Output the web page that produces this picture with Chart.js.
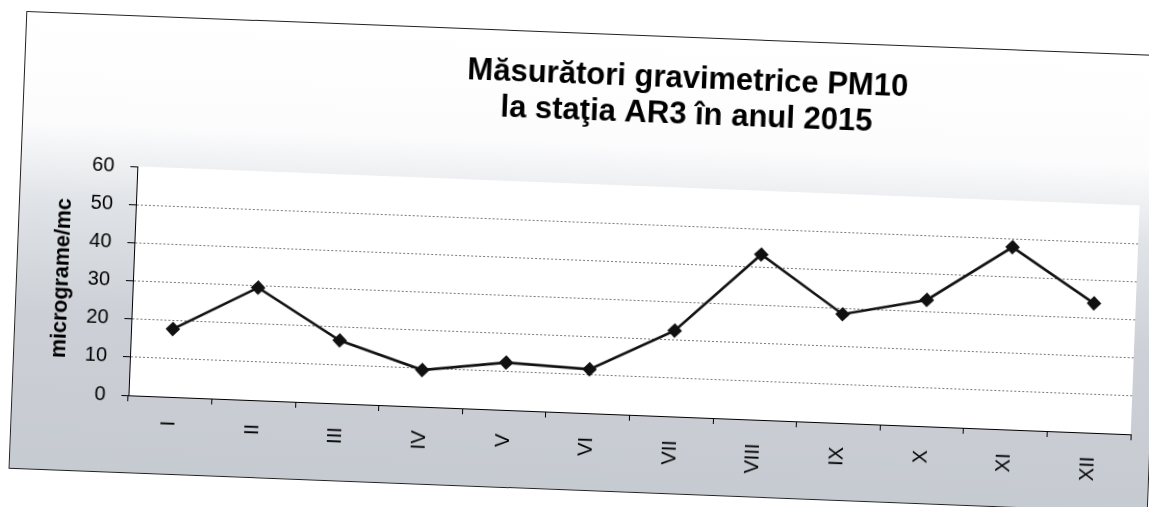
<!DOCTYPE html>
<html>
<head>
<meta charset="utf-8">
<script src="https://cdn.jsdelivr.net/npm/chart.js@4.4.1/dist/chart.umd.min.js"></script>
<style>
  html, body { margin: 0; padding: 0; background: #fff; overflow: hidden; width: 1149px; height: 507px; }
  #box {
    position: absolute; left: 17px; top: 33px;
    width: 1140px; height: 458px; box-sizing: border-box;
    border: 1px solid #222;
    background: linear-gradient(to bottom, #ffffff 0%, #fcfcfd 24%, #dfe2e6 42%, #cdd0d6 65%, #c6cad1 100%);
    transform: rotate(2.23deg); transform-origin: 50% 50%;
  }
  #wrap { position: relative; width: 1138px; height: 456px; }
</style>
</head>
<body>
<div id="box"><div id="wrap"><canvas id="chart"></canvas></div></div>
<script>
const titleLines = ["Măsurători gravimetrice PM10", "la staţia AR3 în anul 2015"];
const yTitle = "micrograme/mc";
const months = ["I", "II", "III", "IV", "V", "VI", "VII", "VIII", "IX", "X", "XI", "XII"];
const pm10 = [17.8, 29.5, 16.5, 9.6, 12.4, 11.5, 22.5, 43.3, 28.5, 33.1, 47.8, 33.9];
const yMin = 0, yMax = 60, yStep = 10;

const FONT = "'Liberation Sans', Arial, sans-serif";

// white plot area + the two-line title
const plotBg = {
    id: 'plotBg',
    beforeDraw(chart) {
        const a = chart.chartArea;
        const ctx = chart.ctx;
        ctx.save();
        ctx.fillStyle = '#fff';
        ctx.fillRect(a.left, a.top, a.right - a.left, a.bottom - a.top);
        ctx.restore();
    },
    afterDraw(chart) {
        const a = chart.chartArea;
        const ctx = chart.ctx;
        ctx.save();
        ctx.fillStyle = '#000';
        ctx.font = "bold 31px " + FONT;
        ctx.textAlign = 'center';
        ctx.textBaseline = 'alphabetic';
        const cx = a.left + (a.right - a.left) * 0.545;
        ctx.fillText(titleLines[0], cx, a.top - 100);
        ctx.fillText(titleLines[1], cx, a.top - 64);
        ctx.restore();
    }
};

new Chart(document.getElementById('chart'), {
    type: 'line',
    data: {
        labels: months,
        datasets: [{
            data: pm10,
            borderColor: '#111',
            borderWidth: 2.6,
            pointStyle: 'rectRot',
            pointRadius: 5.5,
            pointBackgroundColor: '#111',
            pointBorderColor: '#111',
            tension: 0,
            fill: false
        }]
    },
    options: {
        responsive: true,
        maintainAspectRatio: false,
        animation: false,
        layout: { padding: { left: 0, top: 150, right: 19, bottom: 0 } },
        plugins: {
            legend: { display: false },
            tooltip: { enabled: false }
        },
        scales: {
            x: {
                offset: true,
                grid: {
                    display: true, offset: true, drawOnChartArea: false,
                    drawTicks: true, tickLength: 6, color: '#000', tickColor: '#000'
                },
                border: { display: true, color: '#000', width: 1 },
                ticks: {
                    autoSkip: false, minRotation: 90, maxRotation: 90, padding: 18,
                    color: '#000', font: { family: FONT, size: 20 }
                },
                afterFit(scale) { scale.height = 77; }
            },
            y: {
                min: yMin, max: yMax,
                grid: {
                    color: ctx => ctx.tick && ctx.tick.value === yMax ? 'rgba(0,0,0,0)' : '#7a7a7a',
                    tickColor: '#000',
                    tickBorderDash: [],
                    tickLength: 7,
                    lineWidth: 1
                },
                border: { display: true, color: '#000', width: 1, dash: [2, 2] },
                ticks: {
                    stepSize: yStep, padding: 16, color: '#000',
                    font: { family: FONT, size: 20 }
                },
                title: {
                    display: true, text: yTitle, color: '#000',
                    font: { family: FONT, size: 21.5, weight: 'bold' },
                    padding: { top: 32, bottom: 0 }
                },
                afterFit(scale) { scale.width = 116; }
            }
        }
    },
    plugins: [plotBg]
});
</script>
</body>
</html>
